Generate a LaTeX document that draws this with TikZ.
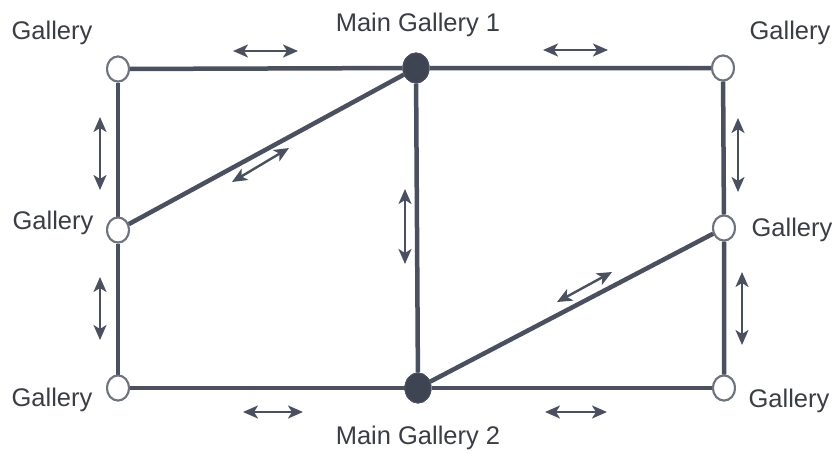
\documentclass[tikz,border=0pt]{standalone}
\usepackage{fontspec}
\setmainfont{Liberation Sans}
\usetikzlibrary{arrows.meta,shapes.geometric}
\definecolor{linec}{HTML}{4A5060}
\definecolor{txtc}{HTML}{3A3D45}
\tikzset{
  x=1pt,y=-1pt,
  edge/.style={draw=linec,line width=4.5pt},
  opennode/.style={ellipse,draw=linec!80,line width=2pt,fill=white,minimum width=22pt,minimum height=25pt,inner sep=0pt},
  fillnode/.style={ellipse,draw=linec,line width=1pt,fill=linec!85!black,minimum width=26pt,minimum height=30pt,inner sep=0pt},
  dirarrow/.style={draw=linec,line width=2.4pt,{Stealth[length=15pt,width=13pt,inset=4pt]}-{Stealth[length=15pt,width=13pt,inset=4pt]}},
  lbl/.style={text=txtc,font=\fontsize{25.5}{30}\selectfont,inner sep=0pt}
}
\begin{document}
\begin{tikzpicture}
\useasboundingbox (0,0) rectangle (836,453);
% nodes
\node[opennode] (tl) at (118,69) {};
\node[fillnode] (tm) at (416,68) {};
\node[opennode] (tr) at (723,68) {};
\node[opennode] (ml) at (118,230) {};
\node[opennode] (mr) at (724,228) {};
\node[opennode] (bl) at (118,388) {};
\node[fillnode] (bm) at (418,388) {};
\node[opennode] (br) at (724,388) {};
% edges
\draw[edge] (tl) -- (tm) -- (tr);
\draw[edge] (bl) -- (bm) -- (br);
\draw[edge] (tl) -- (ml) -- (bl);
\draw[edge] (tr) -- (mr) -- (br);
\draw[edge] (tm) -- (bm);
\draw[edge] (ml) -- (tm);
\draw[edge] (bm) -- (mr);
% redraw nodes on top
\node[opennode] at (tl) {};
\node[fillnode] at (tm) {};
\node[opennode] at (tr) {};
\node[opennode] at (ml) {};
\node[opennode] at (mr) {};
\node[opennode] at (bl) {};
\node[fillnode] at (bm) {};
\node[opennode] at (br) {};
% direction arrows
\coordinate (a1s) at (233,51); \coordinate (a1e) at (298,51);
\coordinate (a2s) at (543,50); \coordinate (a2e) at (608,50);
\coordinate (a3s) at (243,412); \coordinate (a3e) at (303,412);
\coordinate (a4s) at (545,412); \coordinate (a4e) at (607,412);
\coordinate (a5s) at (100,117); \coordinate (a5e) at (100,190);
\coordinate (a6s) at (100,277); \coordinate (a6e) at (100,340);
\coordinate (a7s) at (405,189); \coordinate (a7e) at (405,264);
\coordinate (a8s) at (738,118); \coordinate (a8e) at (738,192);
\coordinate (a9s) at (742,272); \coordinate (a9e) at (742,345);
\coordinate (a10s) at (232,182); \coordinate (a10e) at (289,148);
\coordinate (a11s) at (557,302); \coordinate (a11e) at (612,272);
\foreach \i in {1,...,11} {\draw[dirarrow] (a\i s) -- (a\i e);}
% labels
\node[lbl] (l1) at (52,33) {Gallery};
\node[lbl] (l2) at (418,25) {Main Gallery 1};
\node[lbl] (l3) at (790,33) {Gallery};
\node[lbl] (l4) at (53,223) {Gallery};
\node[lbl] (l5) at (792,230) {Gallery};
\node[lbl] (l6) at (52,400) {Gallery};
\node[lbl] (l7) at (418,438) {Main Gallery 2};
\node[lbl] (l8) at (789,401) {Gallery};
\end{tikzpicture}
\end{document}
